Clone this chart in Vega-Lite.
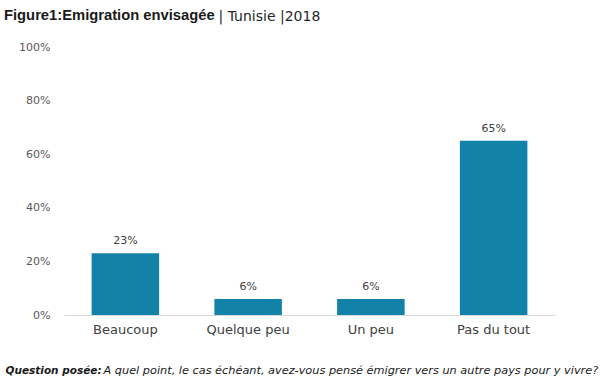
{
  "$schema": "https://vega.github.io/schema/vega-lite/v6.json",
  "autosize": "none",
  "width": 491,
  "height": 268,
  "padding": {"left": 64, "top": 47, "right": 54, "bottom": 75},
  "background": "white",
  "config": {
    "font": "DejaVu Sans",
    "view": {"stroke": null}
  },
  "title": {
    "text": "Figure1:Emigration envisagée",
    "anchor": "start",
    "frame": "group",
    "dx": -60,
    "offset": 0,
    "dy": 14,
    "font": "Liberation Sans",
    "fontSize": 14.75,
    "fontWeight": "bold",
    "color": "#1a1a1a"
  },
  "data": {
    "values": [
      {"reponse": "Beaucoup", "part": 0.23},
      {"reponse": "Quelque peu", "part": 0.06},
      {"reponse": "Un peu", "part": 0.06},
      {"reponse": "Pas du tout", "part": 0.65}
    ]
  },
  "encoding": {
    "x": {
      "field": "reponse",
      "type": "nominal",
      "sort": null,
      "scale": {"paddingInner": 0.45, "paddingOuter": 0.225}
    },
    "y": {
      "field": "part",
      "type": "quantitative",
      "scale": {"domain": [0, 1]}
    }
  },
  "layer": [
    {
      "mark": {"type": "bar", "color": "#1282a8"},
      "encoding": {
        "x": {
          "field": "reponse",
          "type": "nominal",
          "sort": null,
          "axis": {
            "orient": "bottom",
            "labelAngle": 0,
            "labelFontSize": 13,
            "labelColor": "#404040",
            "labelPadding": 8,
            "ticks": false,
            "domainColor": "#d9d9d9",
            "title": "Question posée:",
            "titleFontSize": 10.5,
            "titleFontWeight": "bold",
            "titleFontStyle": "italic",
            "titleColor": "#1a1a1a",
            "titleX": -59,
            "titleY": 58,
            "titleAlign": "left",
            "titleBaseline": "alphabetic"
          }
        },
        "y": {
          "field": "part",
          "type": "quantitative",
          "axis": {
            "values": [0, 0.2, 0.4, 0.6, 0.8, 1],
            "format": ".0%",
            "grid": false,
            "domain": false,
            "ticks": false,
            "labelPadding": 14,
            "labelFontSize": 11,
            "labelColor": "#595959",
            "title": "| Tunisie |2018",
            "titleAngle": 0,
            "titleX": 154,
            "titleY": -27,
            "titleAlign": "left",
            "titleBaseline": "alphabetic",
            "titleFontSize": 14,
            "titleFontWeight": "normal",
            "titleColor": "#262626"
          }
        }
      }
    },
    {
      "mark": {"type": "text", "baseline": "bottom", "dy": -7, "fontSize": 11, "color": "#404040"},
      "encoding": {
        "x": {
          "field": "reponse",
          "type": "nominal",
          "sort": null,
          "axis": {
            "orient": "top",
            "labels": false,
            "ticks": false,
            "domain": false,
            "title": "A quel point, le cas échéant, avez-vous pensé émigrer vers un autre pays pour y vivre?",
            "titleFontSize": 11.3,
            "titleFontWeight": "normal",
            "titleFontStyle": "italic",
            "titleColor": "#1a1a1a",
            "titleX": 39,
            "titleY": 326,
            "titleAlign": "left",
            "titleBaseline": "alphabetic"
          }
        },
        "text": {"field": "part", "type": "quantitative", "format": ".0%"}
      }
    }
  ],
  "resolve": {"axis": {"x": "independent"}}
}
